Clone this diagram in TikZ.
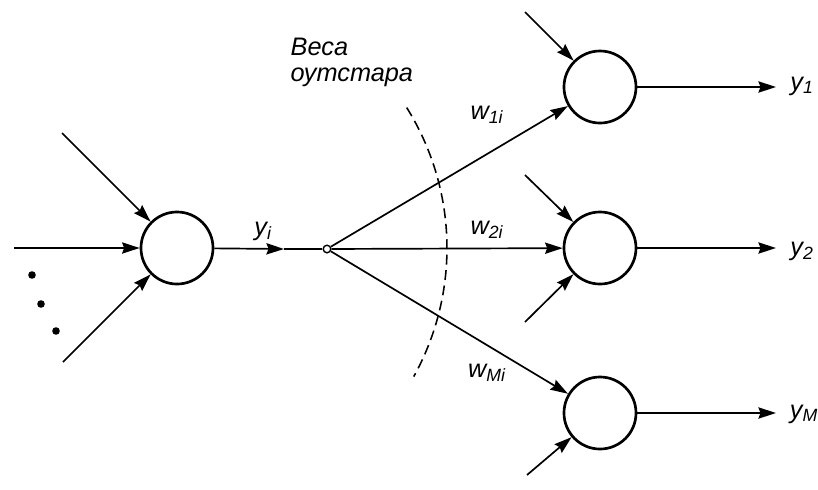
\documentclass[tikz,border=0pt]{standalone}
\usepackage{fontspec}
\setmainfont{Liberation Sans}
\usetikzlibrary{arrows.meta}

\tikzset{
  neuron/.style={circle, draw, line width=1.9pt, minimum size=1.8cm, inner sep=0pt},
  hub/.style={circle, draw, line width=1pt, minimum size=0.19cm, inner sep=0pt},
  sig/.style={line width=1.2pt, -{Stealth[length=12.5pt, width=8pt, inset=1.5pt]}},
  lbl/.style={font=\fontsize{18}{18.5}\selectfont\itshape, inner sep=1pt},
}

\begin{document}
\begin{tikzpicture}[x=0.025cm, y=-0.025cm]
  \useasboundingbox (0,0) rectangle (818,489);
  % source neuron and its inputs
  \node[neuron] (src) at (177,248) {};
  \coordinate (ina) at (62,133);
  \coordinate (inb) at (14,248);
  \coordinate (inc) at (63,362);
  \foreach \c in {ina,inb,inc}
    \draw[sig] (\c) -- (src);
  \foreach \p in {(32,275),(41,304),(56,331)}
    \fill \p circle (2.7pt);
  % outstar hub
  \node[hub] (hub) at (327,249) {};
  \coordinate (mid) at (284,249);
  \draw[sig] (src) -- (mid);
  \draw[line width=1.2pt] (mid) -- (hub);
  \node[lbl] (yi) at (263,231) {y\textsubscript{i}};
  % target neurons
  \node[neuron] (t1) at (600,87) {};
  \node[neuron] (t2) at (600,248) {};
  \node[neuron] (tm) at (600,413) {};
  \foreach \t in {t1,t2,tm}
    \draw[sig] (hub) -- (\t);
  % other inputs of targets
  \coordinate (t1a) at (525,12);
  \coordinate (t2a) at (525,175);
  \coordinate (t2b) at (525,322);
  \coordinate (tmb) at (527,475);
  \draw[sig] (t1a) -- (t1);
  \draw[sig] (t2a) -- (t2);
  \draw[sig] (t2b) -- (t2);
  \draw[sig] (tmb) -- (tm);
  % outputs
  \coordinate (o1) at (776,87);
  \coordinate (o2) at (776,248);
  \coordinate (om) at (776,413);
  \draw[sig] (t1) -- (o1);
  \draw[sig] (t2) -- (o2);
  \draw[sig] (tm) -- (om);
  \node[lbl] (y1) at (802,86) {y\textsubscript{1}};
  \node[lbl] (y2) at (802,251) {y\textsubscript{2}};
  \node[lbl] (ym) at (804,414) {y\textsubscript{M}};
  % outstar weights
  \node[lbl] (w1) at (487,115) {w\textsubscript{1i}};
  \node[lbl] (w2) at (487,230) {w\textsubscript{2i}};
  \node[lbl] (wm) at (487,373) {w\textsubscript{Mi}};
  \draw[line width=1.1pt, dash pattern=on 7pt off 4pt]
    (406.7,107.6) arc[start angle=32, end angle=-29, radius=6.625cm];
  \node[lbl, align=left, anchor=north west] (cap) at (289,36) {Веса\\оутстара};
\end{tikzpicture}
\end{document}
